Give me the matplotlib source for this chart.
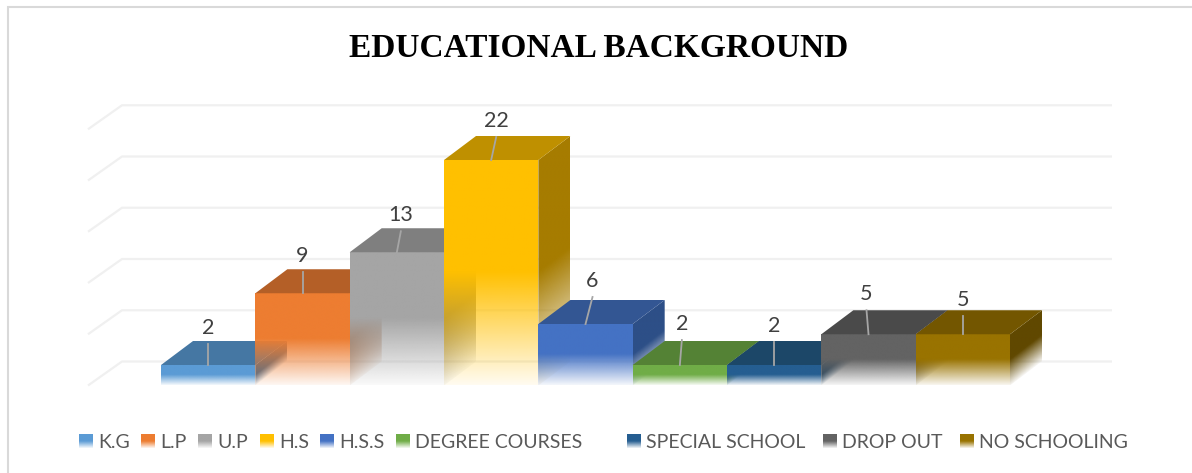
import numpy as np
import matplotlib
matplotlib.use("Agg")
import matplotlib.pyplot as plt
from matplotlib.colors import to_rgb
from matplotlib.patches import Polygon

# chart data
categories = ['K.G', 'L.P', 'U.P', 'H.S', 'H.S.S', 'DEGREE COURSES', 'SPECIAL SCHOOL', 'DROP OUT', 'NO SCHOOLING']
values = [2, 9, 13, 22, 6, 2, 2, 5, 5]
grid_values = [0, 5, 10, 15, 20, 25]

front_colors = ['#5B9BD5', '#ED7D31', '#A5A5A5', '#FFC000', '#4472C4', '#70AD47', '#255E91', '#636363', '#997300']
top_colors = ['#4577A3', '#B45F27', '#7F7F7F', '#BF9000', '#335693', '#548235', '#1C4768', '#4A4A4A', '#735600']
side_colors = ['#3F6C94', '#A5561F', '#737373', '#A67C00', '#2D4F87', '#4D7831', '#1A4262', '#454545', '#604800']

# leader lines, pixels away from the bar's front top edge
leader_dx = [0, 0, 4, 5, 7, 2, 0, -2, 0]
leader_len = [21, 21, 21, 23, 27, 25, 23, 24, 18]

# legend positions in pixels
legend_swatch_x = [79, 141, 198, 260, 320, 396, 627, 823, 960]

W, H = 1192, 473
BAR_W = 94.33    # px per category
UNIT = 10.25     # px per value unit
X0 = 208.2       # px of first bar centre
Y0 = 385.5       # px of the baseline
DEPTH_X = 32 / BAR_W
DEPTH_Y = 24 / UNIT

fig = plt.figure(figsize=(W / 100, H / 100), dpi=100)
ax = fig.add_axes([0, 0, 1, 1])
ax_lims = ((-X0 / BAR_W, (W - X0) / BAR_W), ((Y0 - H) / UNIT, Y0 / UNIT))
ax.set_xlim(*ax_lims[0])
ax.set_ylim(*ax_lims[1])
ax.axis('off')

# second axes in pixels for the frame and the legend
px = fig.add_axes([0, 0, 1, 1])
px.set_xlim(0, W)
px.set_ylim(H, 0)
px.axis('off')
px.patch.set_alpha(0)


def draw_face(axis, x_left, x_right, y_left, y_right, height, color, zorder=3, hold=0.5, low=0.06):
    # one face of a bar: solid above 'hold' of its height, fading out to the bottom.
    # y_left/y_right let the face be sheared for the side of the box
    y_min = min(y_left, y_right, y_left + height, y_right + height)
    y_max = max(y_left, y_right, y_left + height, y_right + height)
    xs = np.linspace(x_left, x_right, 40)
    ys = np.linspace(y_min, y_max, 240)
    gx, gy = np.meshgrid(xs, ys)
    u = (gx - x_left) / (x_right - x_left)
    f = (gy - (y_left + u * (y_right - y_left))) / height
    alpha = np.clip(low + (1 - low) * f / hold, 0, 1)
    rgba = np.ones(gx.shape + (4,))
    rgba[..., :3] = to_rgb(color)
    rgba[..., 3] = alpha
    im = axis.imshow(rgba, extent=(x_left, x_right, y_min, y_max), origin='lower',
                     aspect='auto', interpolation='bilinear', zorder=zorder)
    clip = Polygon([(x_left, y_left), (x_right, y_right), (x_right, y_right + height), (x_left, y_left + height)],
                   closed=True, transform=axis.transData)
    im.set_clip_path(clip)


# gridlines: along the floor front on the side wall, then across the back wall
x_wall = (122 - X0) / BAR_W
x_floor = (88 - X0) / BAR_W
x_end = (1112 - X0) / BAR_W
for g in grid_values:
    ax.plot([x_floor, x_wall, x_end], [g, g + DEPTH_Y, g + DEPTH_Y], color='#F0F0F0', lw=1.6,
            solid_joinstyle='miter', solid_capstyle='butt', zorder=1)

# bars, painted left to right so each front shows the previous side through its fade
for i, v in enumerate(values):
    left, right = i - 0.5, i + 0.5
    draw_face(ax, left, right, 0, 0, v, front_colors[i], zorder=3 + i)
    draw_face(ax, right, right + DEPTH_X, 0, DEPTH_Y, v, side_colors[i], zorder=3 + i)
    ax.add_patch(Polygon([(left, v), (right, v), (right + DEPTH_X, v + DEPTH_Y), (left + DEPTH_X, v + DEPTH_Y)],
                         closed=True, facecolor=top_colors[i], edgecolor='none', zorder=3 + i))
ax.set_xlim(*ax_lims[0])
ax.set_ylim(*ax_lims[1])

# data labels with their leader lines
for i, v in enumerate(values):
    x_tip = i + leader_dx[i] / BAR_W
    y_tip = v + leader_len[i] / UNIT
    ax.plot([i, x_tip], [v, y_tip], color='#A6A6A6', lw=1.3, zorder=20)
    ax.text(x_tip, y_tip + 10 / UNIT, str(v), ha='center', va='baseline', fontsize=15.5,
            family='Lato', color='#404040', zorder=21)

# frame
px.plot([8, 8, W], [H, 7.5, 7.5], color='#D9D9D9', lw=1.5, solid_joinstyle='miter', zorder=1)

# title
px.text(598.5, 57, 'EDUCATIONAL BACKGROUND', ha='center', va='baseline', fontsize=24,
        family='Liberation Serif', fontweight='bold', color='black')

# legend
for i, name in enumerate(categories):
    sx = legend_swatch_x[i]
    draw_face(px, sx, sx + 14, 448, 448, -14, front_colors[i], zorder=3)
    px.text(sx + 19, 448, name, ha='left', va='baseline', fontsize=14, family='Lato', color='#595959')
px.set_xlim(0, W)
px.set_ylim(H, 0)

fig.savefig('out.png', dpi=100)
